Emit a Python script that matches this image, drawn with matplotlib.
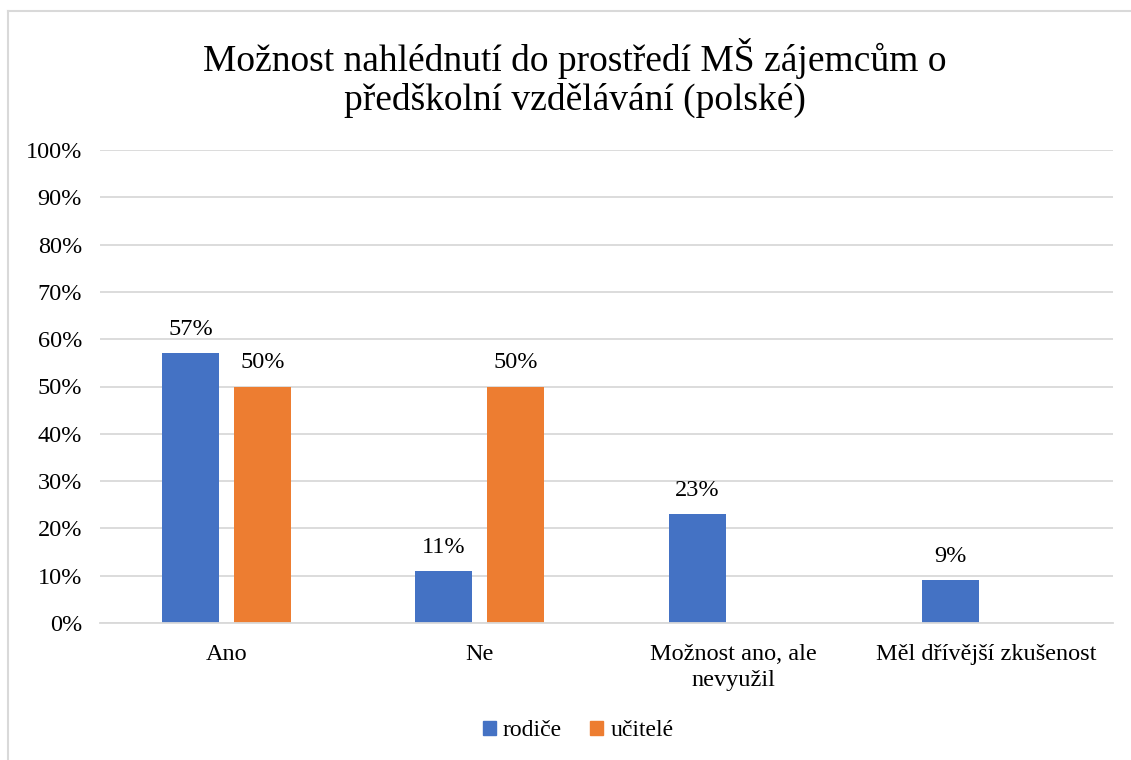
import matplotlib.pyplot as plt
from matplotlib.lines import Line2D
import numpy as np

categories = ['Ano', 'Ne', 'Možnost ano, ale\nnevyužil', 'Měl dřívější zkušenost']
rodice = [0.57, 0.11, 0.23, 0.09]
ucitele = [0.50, 0.50, None, None]
series_names = ['rodiče', 'učitelé']
title = 'Možnost nahlédnutí do prostředí MŠ zájemcům o\npředškolní vzdělávání (polské)'

plt.rcParams['font.family'] = ['Liberation Serif', 'DejaVu Serif']

fig = plt.figure(figsize=(11.31, 7.60), dpi=100)
ax = fig.add_axes([100 / 1131, 1 - 623 / 760, 1013 / 1131, 473 / 760])

x = np.arange(len(categories))
w = 0.225
off = 0.1425
blue = '#4472C4'
orange = '#ED7D31'

for i, v in enumerate(rodice):
    ax.bar(x[i] - off, v, w, color=blue, zorder=3)
    ax.text(x[i] - off, v + 0.05, f'{round(v * 100)}%', ha='center', va='center', fontsize=17.5)
for i, v in enumerate(ucitele):
    if v is None:
        continue
    ax.bar(x[i] + off, v, w, color=orange, zorder=3)
    ax.text(x[i] + off, v + 0.05, f'{round(v * 100)}%', ha='center', va='center', fontsize=17.5)

ax.set_xlim(-0.5, len(categories) - 0.5)
ax.set_ylim(0, 1)
ax.set_yticks(np.arange(0, 1.01, 0.1))
ax.set_yticklabels([f'{int(round(t * 100))}%' for t in np.arange(0, 1.01, 0.1)], fontsize=17.5)
ax.set_xticks(x)
ax.set_xticklabels(categories, fontsize=17.5, linespacing=1.33)
ax.tick_params(axis='both', length=0)
ax.tick_params(axis='y', pad=13)
ax.tick_params(axis='x', pad=15)
ax.yaxis.grid(True, color='#D9D9D9', linewidth=1.3, zorder=0)
for s in ['top', 'right', 'left']:
    ax.spines[s].set_visible(False)
ax.spines['bottom'].set_color('#D9D9D9')
ax.spines['bottom'].set_linewidth(1.3)
ax.spines['bottom'].set_zorder(4)

fig.text(575 / 1131, 1 - 78 / 760, title, ha='center', va='center', fontsize=27, linespacing=1.15)

handles = [plt.Rectangle((0, 0), 1, 1, color=blue), plt.Rectangle((0, 0), 1, 1, color=orange)]
fig.legend(handles, series_names, loc='center', bbox_to_anchor=(578 / 1131, 1 - 731 / 760),
           ncol=2, frameon=False, fontsize=17, handlelength=0.55, handleheight=0.55,
           handletextpad=0.3, columnspacing=1.2)

# chart border
fig.add_artist(Line2D([8 / 1131, 8 / 1131], [0, 1 - 11 / 760], color='#D9D9D9', linewidth=1.5))
fig.add_artist(Line2D([8 / 1131, 1], [1 - 11 / 760, 1 - 11 / 760], color='#D9D9D9', linewidth=1.5))

plt.savefig('out.png', dpi=100)
